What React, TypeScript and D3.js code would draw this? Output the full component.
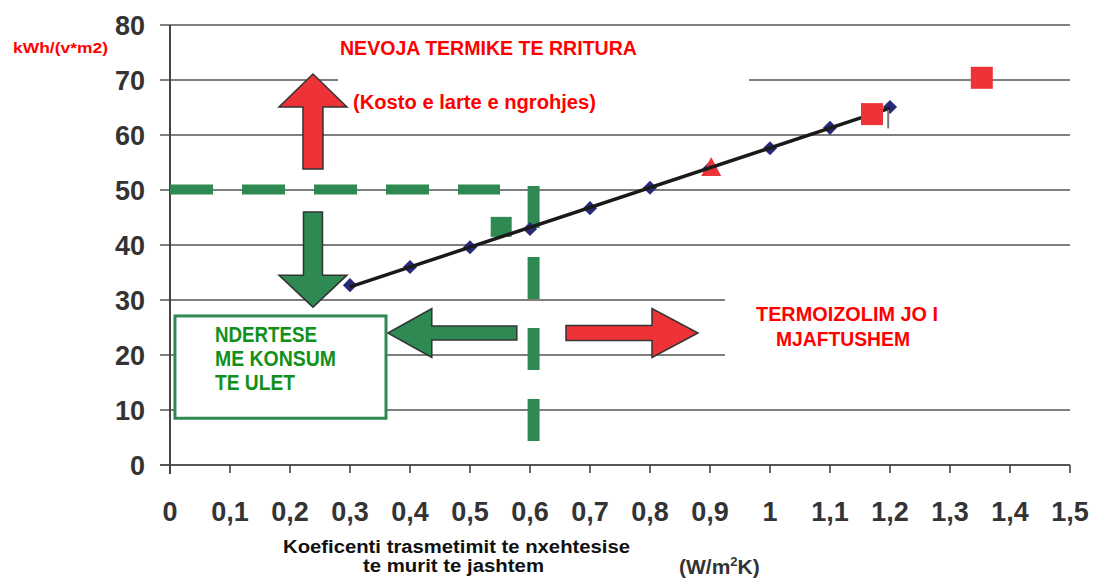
import * as d3 from 'd3';

// thermal transmittance of the outer wall (W/m2K) vs. heating demand kWh/(y*m2)
const uValues = [0.3, 0.4, 0.5, 0.6, 0.7, 0.8, 0.9, 1.0, 1.1, 1.2];
const demand = [32.7, 36.0, 39.6, 42.9, 46.7, 50.4, 54.0, 57.6, 61.3, 65.1];

const redSquares: [number, number][] = [[1.17, 63.8], [1.353, 70.4]];
const redTriangle: [number, number] = [0.902, 54.2];
const greenSquare: [number, number] = [0.552, 43.3];

const xTicks = [0, 0.1, 0.2, 0.3, 0.4, 0.5, 0.6, 0.7, 0.8, 0.9, 1, 1.1, 1.2, 1.3, 1.4, 1.5];
const xTickLabels = ['0', '0,1', '0,2', '0,3', '0,4', '0,5', '0,6', '0,7', '0,8', '0,9', '1', '1,1', '1,2', '1,3', '1,4', '1,5'];
const yTicks = [0, 10, 20, 30, 40, 50, 60, 70, 80];

// gridline spans in x units (some are cut short in the original)
const gridSpans: Record<number, [number, number][]> = {
  70: [[0, 0.28], [0.965, 1.5]],
  30: [[0, 0.925]],
  20: [[0, 0.925]],
};

const RED = '#ee3338';
const GREEN = '#2e8a52';
const TEXT_GREEN = '#12901a';
const FONT = 'Liberation Sans, Arial, sans-serif';

const x = d3.scaleLinear().domain([0, 1.5]).range([170, 1070]);
const y = d3.scaleLinear().domain([0, 80]).range([465, 25]);

// block arrow from tail to tip (pixel space)
function arrowPath(tail: [number, number], tip: [number, number], shaftW: number, headW: number, headL: number) {
  const [x0, y0] = tail;
  const [x1, y1] = tip;
  const len = Math.hypot(x1 - x0, y1 - y0);
  const ux = (x1 - x0) / len, uy = (y1 - y0) / len;
  const px = -uy, py = ux;
  const bx = x1 - ux * headL, by = y1 - uy * headL;
  const pts = [
    [x0 + px * shaftW / 2, y0 + py * shaftW / 2],
    [bx + px * shaftW / 2, by + py * shaftW / 2],
    [bx + px * headW / 2, by + py * headW / 2],
    [x1, y1],
    [bx - px * headW / 2, by - py * headW / 2],
    [bx - px * shaftW / 2, by - py * shaftW / 2],
    [x0 - px * shaftW / 2, y0 - py * shaftW / 2],
  ];
  return 'M' + pts.map(p => p.join(',')).join('L') + 'Z';
}

const arrows = [
  { tail: [0.2383, 53.8], tip: [0.2383, 71.1], shaft: 20, head: 68, headL: 33, fill: RED },
  { tail: [0.2383, 46.0], tip: [0.2383, 28.7], shaft: 19, head: 68, headL: 32, fill: GREEN },
  { tail: [0.578, 24.0], tip: [0.363, 24.0], shaft: 14, head: 49, headL: 44, fill: GREEN },
  { tail: [0.66, 24.0], tip: [0.88, 24.0], shaft: 15, head: 49, headL: 46, fill: RED },
];

export default function App() {
  // least squares trend through the blue points
  const mx = d3.mean(uValues)!;
  const my = d3.mean(demand)!;
  const slope = d3.sum(uValues, (u, i) => (u - mx) * (demand[i] - my)) / d3.sum(uValues, u => (u - mx) ** 2);
  const trend = [uValues[0], uValues[uValues.length - 1]].map(u => [u, my + slope * (u - mx)] as [number, number]);
  const line = d3.line<[number, number]>().x(d => x(d[0])).y(d => y(d[1]));
  const diamond = d3.symbol(d3.symbolSquare, 100)();

  return (
    <svg width={1097} height={580} style={{ position: 'absolute', left: 0, top: 0, background: '#fff' }}>
      {/* grid */}
      {yTicks.map(t => {
        const spans = gridSpans[t] || [[0, 1.5]];
        return (
          <g key={t}>
            {spans.map((s, i) => (
              <line key={i} x1={s[0] === 0 ? x(0) - 10 : x(s[0])} x2={x(s[1])} y1={y(t)} y2={y(t)}
                stroke="#555" strokeWidth={t === 0 ? 2 : 1.6} />
            ))}
          </g>
        );
      })}
      <line x1={x(0)} x2={x(0)} y1={y(80)} y2={y(0) + 9} stroke="#444" strokeWidth={2} />
      {xTicks.map(t => (
        <line key={t} x1={x(t)} x2={x(t)} y1={y(0)} y2={y(0) + 8} stroke="#444" strokeWidth={1.6} />
      ))}

      {/* tick labels */}
      {yTicks.map(t => (
        <text key={t} x={145} y={y(t)} dy="0.36em" textAnchor="end" fontFamily={FONT} fontWeight="bold"
          fontSize={27} fill="#333">{t}</text>
      ))}
      {xTicks.map((t, i) => (
        <text key={t} x={x(t)} y={521} textAnchor="middle" fontFamily={FONT} fontWeight="bold"
          fontSize={27} fill="#333">{xTickLabels[i]}</text>
      ))}

      {/* green dashed reference lines */}
      <line x1={x(0)} x2={x(0.55)} y1={y(50.1)} y2={y(50.1)} stroke={GREEN} strokeWidth={10} strokeDasharray="43 29" />
      <line x1={x(0.606)} x2={x(0.606)} y1={186} y2={441} stroke={GREEN} strokeWidth={12} strokeDasharray="42 29" />
      <rect x={x(greenSquare[0]) - 10.5} y={y(greenSquare[1]) - 10} width={21} height={20} fill={GREEN} />

      {/* arrows */}
      {arrows.map((a, i) => (
        <path key={i} d={arrowPath([x(a.tail[0]), y(a.tail[1])], [x(a.tip[0]), y(a.tip[1])], a.shaft, a.head, a.headL)}
          fill={a.fill} stroke="#333" strokeWidth={1.5} strokeLinejoin="miter" />
      ))}

      {/* box */}
      <rect x={x(0.0083)} y={y(27.1)} width={x(0.36) - x(0.0083)} height={y(8.5) - y(27.1)}
        fill="#fff" stroke={GREEN} strokeWidth={3} />
      {['NDERTESE', 'ME KONSUM', 'TE ULET'].map((s, i) => (
        <text key={s} x={215} y={342 + i * 24} fontFamily={FONT} fontWeight="bold" fontSize={22}
          fill={TEXT_GREEN} textLength={[102, 121, 80][i]} lengthAdjust="spacingAndGlyphs">{s}</text>
      ))}

      {/* data */}
      {uValues.map((u, i) => (
        <path key={u} d={diamond!} transform={`translate(${x(u)},${y(demand[i])}) rotate(45)`} fill="#262a78" />
      ))}
      <polygon
        points={`${x(redTriangle[0])},${y(redTriangle[1]) - 10} ${x(redTriangle[0]) + 10},${y(redTriangle[1]) + 9} ${x(redTriangle[0]) - 10},${y(redTriangle[1]) + 9}`}
        fill={RED} />
      <path d={line(trend)!} stroke="#1a1a1a" strokeWidth={3.5} fill="none" />
      {redSquares.map(([u, e]) => (
        <rect key={u} x={x(u) - 11} y={y(e) - 11} width={22} height={22} fill={RED} />
      ))}
      <line x1={x(1.197)} x2={x(1.197)} y1={y(64.6)} y2={y(61.2)} stroke="#777" strokeWidth={2} />

      {/* annotations */}
      <text x={13} y={53} fontFamily={FONT} fontWeight="bold" fontSize={15} fill="#f00"
        textLength={95} lengthAdjust="spacingAndGlyphs">kWh/(v*m2)</text>
      <text x={340} y={55} fontFamily={FONT} fontWeight="bold" fontSize={21} fill="#f00"
        textLength={297} lengthAdjust="spacingAndGlyphs">NEVOJA TERMIKE TE RRITURA</text>
      <text x={353} y={109} fontFamily={FONT} fontWeight="bold" fontSize={20} fill="#f00"
        textLength={243} lengthAdjust="spacingAndGlyphs">(Kosto e larte e ngrohjes)</text>
      <text x={756} y={321} fontFamily={FONT} fontWeight="bold" fontSize={21} fill="#f00"
        textLength={182} lengthAdjust="spacingAndGlyphs">TERMOIZOLIM JO I</text>
      <text x={776} y={346} fontFamily={FONT} fontWeight="bold" fontSize={21} fill="#f00"
        textLength={134} lengthAdjust="spacingAndGlyphs">MJAFTUSHEM</text>

      {/* axis title */}
      <text x={283} y={553} fontFamily={FONT} fontWeight="bold" fontSize={17.5} fill="#111"
        textLength={347} lengthAdjust="spacingAndGlyphs">Koeficenti trasmetimit te nxehtesise</text>
      <text x={363} y={572} fontFamily={FONT} fontWeight="bold" fontSize={17.5} fill="#111"
        textLength={181} lengthAdjust="spacingAndGlyphs">te murit te jashtem</text>
      <text x={679} y={574} fontFamily={FONT} fontWeight="bold" fontSize={21} fill="#333">
        (W/m<tspan fontSize={13} dy={-8}>2</tspan><tspan dy={8}>K)</tspan>
      </text>
    </svg>
  );
}
